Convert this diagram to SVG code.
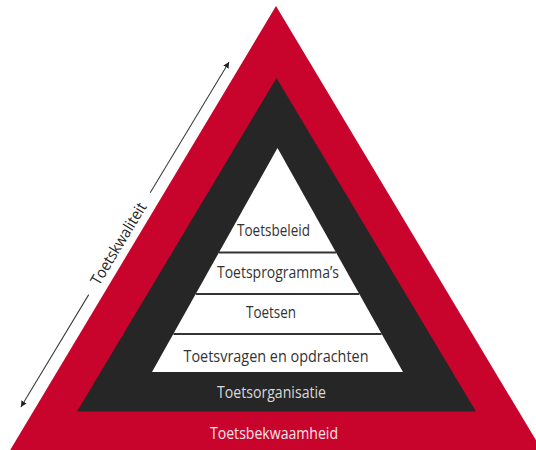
<svg xmlns="http://www.w3.org/2000/svg" width="536" height="450" viewBox="0 0 536 450">
  <defs>
    <style>
      .lbl { font-family: "Open Sans", "Liberation Sans", sans-serif; font-size: 15.5px; }
      .inner { fill: #333333; }
      .sep { stroke: #333333; stroke-width: 1.8; }
      .conn { stroke: #333333; stroke-width: 1; fill: none; marker-end: url(#arrow); }
    </style>
    <marker id="arrow" viewBox="0 0 10 10" refX="10" refY="5" markerWidth="6" markerHeight="6" markerUnits="userSpaceOnUse" orient="auto">
      <path d="M0,0 L10,5 L0,10 Z" fill="#222222"/>
    </marker>
  </defs>
  <rect width="536" height="450" fill="#ffffff"/>

  <g id="toetsbekwaamheid">
    <polygon points="276,6 9,452 543,452" fill="#c8042d"/>
    <text class="lbl" x="210" y="439" textLength="128" lengthAdjust="spacingAndGlyphs" fill="#fbe3e9">Toetsbekwaamheid</text>
  </g>

  <g id="toetsorganisatie">
    <polygon points="276.5,78 77,411.5 476,411.5" fill="#262626"/>
    <text class="lbl" x="217" y="398" textLength="109" lengthAdjust="spacingAndGlyphs" fill="#d9d9d9">Toetsorganisatie</text>
  </g>

  <g id="pyramide">
    <polygon points="277.5,148 152,372 403,372" fill="#ffffff"/>
  </g>

  <g id="toetsbeleid">
    <text class="lbl inner" x="237" y="236" textLength="73" lengthAdjust="spacingAndGlyphs">Toetsbeleid</text>
  </g>
  <line class="sep" x1="219" y1="252.5" x2="336" y2="252.5"/>

  <g id="toetsprogrammas">
    <text class="lbl inner" x="217" y="277.5" textLength="122" lengthAdjust="spacingAndGlyphs">Toetsprogramma’s</text>
  </g>
  <line class="sep" x1="195.8" y1="294" x2="359.2" y2="294"/>

  <g id="toetsen">
    <text class="lbl inner" x="246" y="318" textLength="50" lengthAdjust="spacingAndGlyphs">Toetsen</text>
  </g>
  <line class="sep" x1="173.4" y1="334" x2="381.6" y2="334"/>

  <g id="toetsvragen">
    <text class="lbl inner" x="183.5" y="362" textLength="185" lengthAdjust="spacingAndGlyphs">Toetsvragen en opdrachten</text>
  </g>

  <g id="connectors" transform="translate(119.2,244.1) rotate(-58.9)">
    <line class="conn" x1="-59" y1="0" x2="-190.3" y2="0"/>
    <line class="conn" x1="60" y1="0" x2="212.7" y2="0"/>
  </g>

  <g id="toetskwaliteit" transform="translate(119.2,244.1) rotate(-58.9)">
    <text class="lbl" x="0" y="4.5" text-anchor="middle" textLength="93" lengthAdjust="spacingAndGlyphs" fill="#262626">Toetskwaliteit</text>
  </g>
</svg>
